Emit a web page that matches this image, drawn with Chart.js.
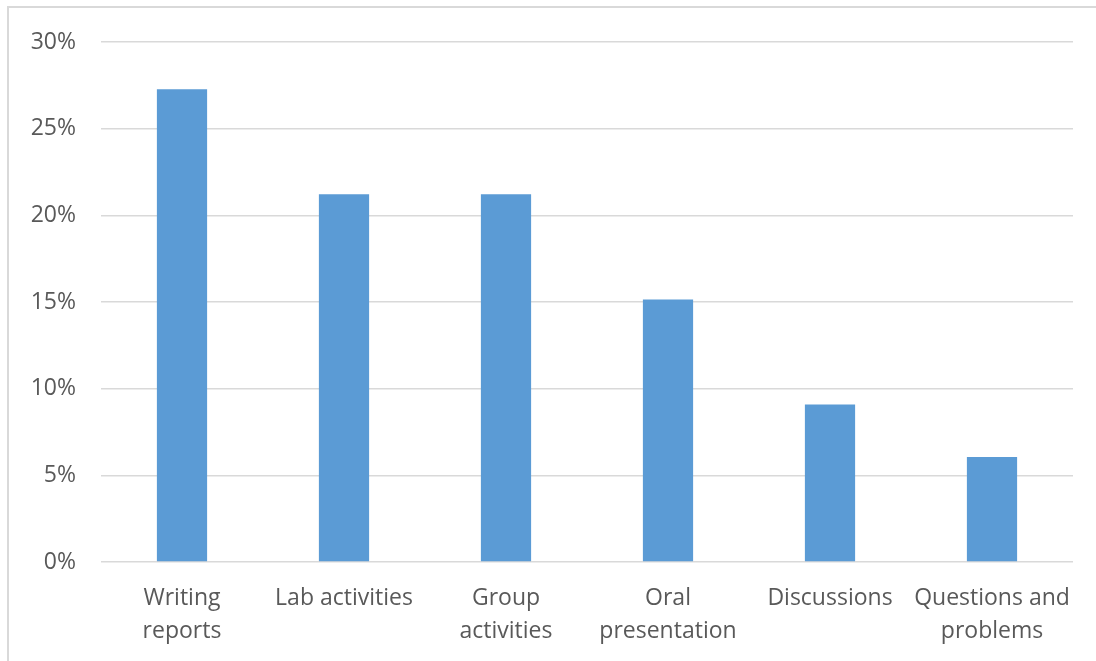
<!DOCTYPE html>
<html>
<head>
<meta charset="utf-8">
<script src="https://cdn.jsdelivr.net/npm/chart.js@4/dist/chart.umd.min.js"></script>
<style>
  html, body { margin: 0; padding: 0; background: #ffffff; overflow: hidden; }
  #wrap { position: relative; width: 1096px; height: 661px; overflow: hidden; background: #fff; }
  #frame { position: absolute; left: 7px; top: 6px; width: 2000px; height: 2000px;
           border: 2px solid #d9d9d9; box-sizing: border-box; pointer-events: none; }
  canvas { position: absolute; left: 0; top: 0; }
</style>
</head>
<body>
<div id="wrap">
  <canvas id="chart" width="1096" height="661"></canvas>
  <div id="frame"></div>
</div>
<script>
// Share of responses per activity type (percent)
const categories = [
  ['Writing', 'reports'],
  'Lab activities',
  ['Group', 'activities'],
  ['Oral', 'presentation'],
  'Discussions',
  ['Questions and', 'problems']
];
const shares = [27.27, 21.21, 21.21, 15.15, 9.09, 6.06];
const yTicks = [0, 5, 10, 15, 20, 25, 30];

const textColor = '#595959';
const gridColor = '#d9d9d9';
const font = { family: '"Open Sans", "Liberation Sans", sans-serif', size: 23 };

new Chart(document.getElementById('chart'), {
  type: 'bar',
  data: {
    labels: categories,
    datasets: [{
      data: shares,
      backgroundColor: '#5b9bd5',
      borderWidth: 0,
      categoryPercentage: 1,
      barPercentage: 0.31
    }]
  },
  options: {
    responsive: false,
    animation: false,
    layout: { padding: { left: 0, top: 42, right: 23, bottom: 0 } },
    plugins: { legend: { display: false }, tooltip: { enabled: false } },
    scales: {
      x: {
        grid: { display: false, drawTicks: false },
        border: { display: false },
        ticks: {
          color: textColor,
          font: { ...font, lineHeight: 1.43 },
          maxRotation: 0,
          autoSkip: false,
          padding: 20
        },
        afterFit: (s) => { s.height = 99; }
      },
      y: {
        min: yTicks[0],
        max: yTicks[yTicks.length - 1],
        afterBuildTicks: (s) => { s.ticks = yTicks.map(v => ({ value: v })); },
        grid: { color: gridColor, lineWidth: 1.5, drawTicks: false },
        border: { display: false },
        ticks: {
          color: textColor,
          font: font,
          padding: 25,
          callback: (v) => v + '%'
        },
        afterFit: (s) => { s.width = 101; }
      }
    }
  }
});
</script>
</body>
</html>
